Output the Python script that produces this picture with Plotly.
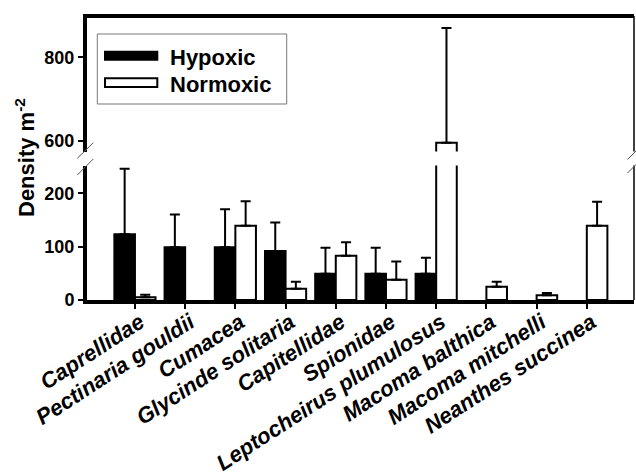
import plotly.graph_objects as go

categories = ["Caprellidae", "Pectinaria gouldii", "Cumacea", "Glycinde solitaria",
              "Capitellidae", "Spionidae", "Leptocheirus plumulosus",
              "Macoma balthica", "Macoma mitchelli", "Neanthes succinea"]
# None = no bar drawn (zero density)
hypoxic = [123, 99, 99, 92, 49, 49, 49, None, None, None]
hypoxic_err = [123, 61, 71, 53, 49, 49, 30, None, None, None]
normoxic = [5, None, 139, 21, 83, 38, 595, 25, 9, 139]
normoxic_err = [5, None, 46, 13, 25, 34, 275, 9, 4, 45]

lower_ticks = [0, 100, 200]
upper_ticks = [600, 800]

FONT = "Liberation Sans, Arial, sans-serif"

fig = go.Figure()
for ya in ["y", "y2"]:
    fig.add_trace(go.Bar(
        x=categories, y=hypoxic, yaxis=ya, name="Hypoxic", showlegend=False,
        marker=dict(color="black", line=dict(color="black", width=2)),
        error_y=dict(type="data", array=hypoxic_err, symmetric=False,
                     arrayminus=[0] * len(hypoxic), color="black", thickness=2, width=5),
    ))
    fig.add_trace(go.Bar(
        x=categories, y=normoxic, yaxis=ya, name="Normoxic", showlegend=False,
        marker=dict(color="white", line=dict(color="black", width=2)),
        error_y=dict(type="data", array=normoxic_err, symmetric=False,
                     arrayminus=[0] * len(normoxic), color="black", thickness=2, width=5),
    ))

L, R, T, B = 87, 2, 16, 176
W, H = 636, 476
pw, ph = W - L - R, H - T - B


def px(xp):
    return (xp - L) / pw


def py(yp):
    return (H - B - yp) / ph


low_top = py(165.5)
up_bot = py(151.5)

axis_common = dict(showline=True, linewidth=4, linecolor="black", ticks="outside",
                   ticklen=5, tickwidth=2, tickcolor="black", showgrid=False,
                   zeroline=False, automargin=False,
                   tickfont=dict(family=FONT, size=18, color="black", weight="bold"))

fig.update_layout(
    width=W, height=H,
    margin=dict(l=L, r=R, t=T, b=B, autoexpand=False),
    paper_bgcolor="white", plot_bgcolor="white",
    barmode="group", bargap=0.18, bargroupgap=0,
    font=dict(family=FONT, color="black"),
    xaxis=dict(type="category", range=[-0.955, 9.94], anchor="y", automargin=False,
               showline=True, linewidth=4, linecolor="black", ticks="outside",
               ticklen=5, tickwidth=1.5, tickcolor="black", showgrid=False, zeroline=False,
               tickangle=-33, ticklabelstandoff=-8, ticklabelshift=5,
               tickfont=dict(family=FONT, size=22, color="black", weight="bold", style="italic")),
    yaxis=dict(domain=[0, low_top], range=[0, 252], tickvals=lower_ticks, anchor="x", **axis_common),
    yaxis2=dict(domain=[up_bot, 1], range=[574, 899], tickvals=upper_ticks, anchor="x", **axis_common),
)

shapes = []
# top border
shapes.append(dict(type="line", xref="paper", yref="paper", x0=px(83), x1=1, y0=1, y1=1,
                   line=dict(color="black", width=4)))
# right border (thin, broken)
shapes.append(dict(type="line", xref="paper", yref="paper", x0=1, x1=1, y0=0, y1=low_top,
                   line=dict(color="black", width=1.5)))
shapes.append(dict(type="line", xref="paper", yref="paper", x0=1, x1=1, y0=up_bot, y1=1,
                   line=dict(color="black", width=1.5)))
# break slashes
for (x0, y0, x1, y1) in [(77.3, 158.3, 93.3, 142.7), (77.3, 175, 93.3, 159),
                         (627.5, 159.5, 640, 147), (627.5, 173, 640, 160.5)]:
    shapes.append(dict(type="line", xref="paper", yref="paper",
                       x0=px(x0), y0=py(y0), x1=px(x1), y1=py(y1),
                       line=dict(color="#555555", width=1)))
# legend box
shapes.append(dict(type="rect", xref="paper", yref="paper",
                   x0=px(97.3), x1=px(286.7), y0=py(104), y1=py(34),
                   line=dict(color="#777777", width=1), fillcolor="white", layer="above"))
shapes.append(dict(type="rect", xref="paper", yref="paper",
                   x0=px(105), x1=px(157.3), y0=py(59.7), y1=py(51.7),
                   line=dict(color="black", width=2), fillcolor="black", layer="above"))
shapes.append(dict(type="rect", xref="paper", yref="paper",
                   x0=px(105), x1=px(157.3), y0=py(87), y1=py(78.3),
                   line=dict(color="black", width=2), fillcolor="white", layer="above"))

annotations = [
    dict(text="Hypoxic", xref="paper", yref="paper", x=px(167.5), y=py(57), xanchor="left",
         yanchor="middle", showarrow=False,
         font=dict(family=FONT, size=22, color="black", weight="bold")),
    dict(text="Normoxic", xref="paper", yref="paper", x=px(167.5), y=py(84), xanchor="left",
         yanchor="middle", showarrow=False,
         font=dict(family=FONT, size=22, color="black", weight="bold")),
    dict(text="Density m<sup>-2</sup>", xref="paper", yref="paper", x=px(25), y=py(158),
         xanchor="center", yanchor="middle", textangle=-90, showarrow=False,
         font=dict(family=FONT, size=22, color="black", weight="bold")),
]

fig.update_layout(shapes=shapes, annotations=annotations)
fig.write_html("out.html")
